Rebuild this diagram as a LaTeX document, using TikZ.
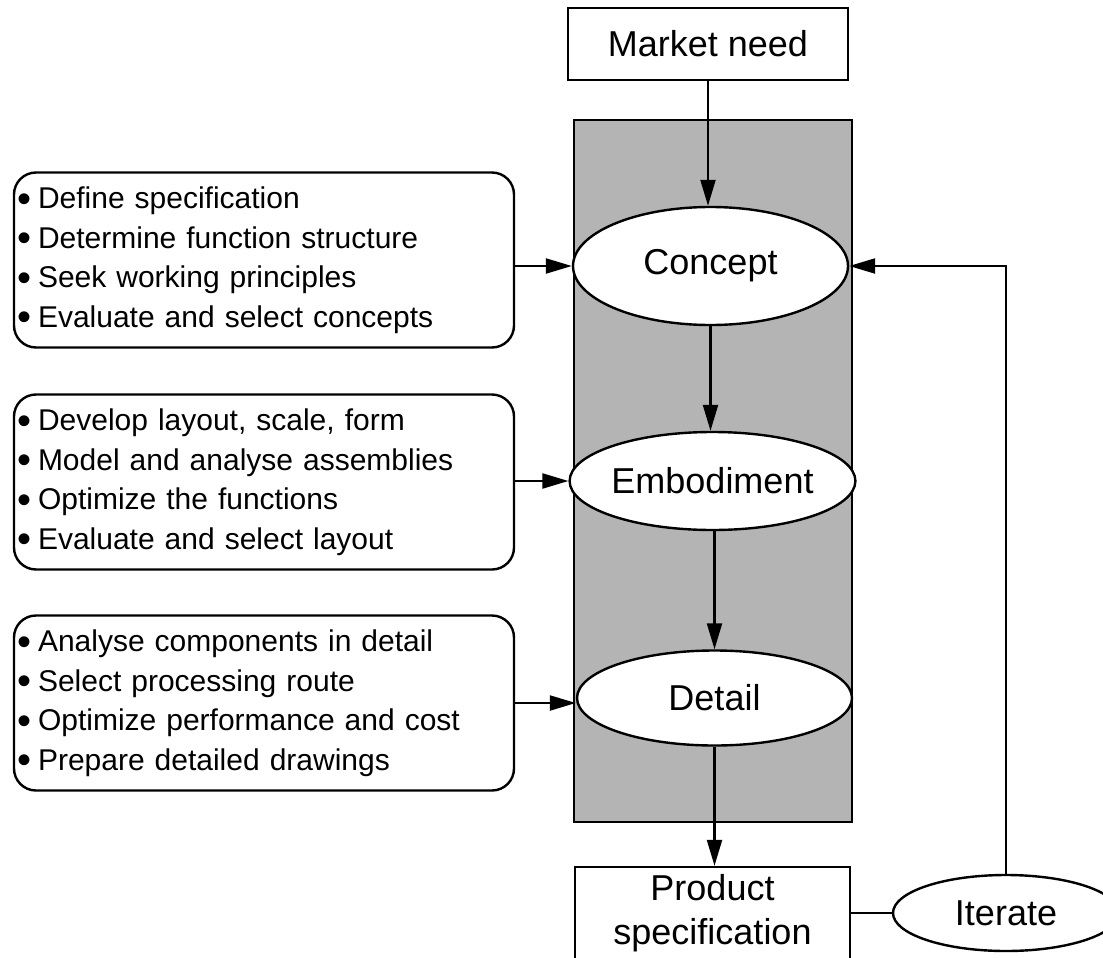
\documentclass[tikz,border=0pt]{standalone}
\usepackage{fontspec}
\setmainfont{Liberation Sans}
\usetikzlibrary{shapes.geometric,arrows.meta}
\definecolor{panelgray}{HTML}{B4B4B4}
% heavier list bullet, kept on the middle of the lower-case letters
\newcommand{\taskdot}{\raisebox{-3.5pt}{\fontsize{40}{39.5}\selectfont\textbullet}\hspace{7pt}}
\begin{document}
\begin{tikzpicture}[x=1pt,y=-1pt,
  every node/.style={inner sep=0pt},
  plainbox/.style={draw, line width=2.4pt, fill=white,
    font=\fontsize{36}{44}\selectfont, align=center},
  phase/.style={draw, ellipse, line width=2.4pt, fill=white,
    font=\fontsize{36}{44}\selectfont},
  listbox/.style={draw, rounded corners=22pt, line width=2.4pt, fill=white,
    minimum width=500pt, minimum height=175pt, text width=494pt,
    inner xsep=3pt, align=left, font=\fontsize{30}{39.5}\selectfont},
  link/.style={line width=2.2pt},
  arr/.style={link, -{Triangle[length=26pt,width=15pt]}}
]
\useasboundingbox (0,0) rectangle (1103,958);
\fill[white] (0,0) rectangle (1103,958);

% shaded panel holding the three design phases
\draw[line width=2.2pt, fill=panelgray] (574,120) rectangle (852,822);

% main flow
\node[plainbox, minimum width=280pt, minimum height=72pt] (need) at (708,44) {Market need};
\node[phase, minimum width=275pt, minimum height=118pt] (concept) at (710.5,266) {Concept};
\node[phase, minimum width=275pt, minimum height=98pt] (embod) at (712.5,481) {Embodiment};
\node[phase, minimum width=275pt, minimum height=95pt] (detail) at (714.5,698) {Detail};
\node[plainbox, minimum width=275pt, minimum height=92pt] (prod) at (712.5,913) {Product\\specification};
\node[phase, minimum width=226pt, minimum height=76pt] (iter) at (1006,913) {Iterate};

% task lists feeding each phase
\node[listbox] (tasks1) at (264,260) {%
  \taskdot Define specification\\
  \taskdot Determine function structure\\
  \taskdot Seek working principles\\
  \taskdot Evaluate and select concepts};
\node[listbox] (tasks2) at (264,482) {%
  \taskdot Develop layout, scale, form\\
  \taskdot Model and analyse assemblies\\
  \taskdot Optimize the functions\\
  \taskdot Evaluate and select layout};
\node[listbox] (tasks3) at (264,703) {%
  \taskdot Analyse components in detail\\
  \taskdot Select processing route\\
  \taskdot Optimize performance and cost\\
  \taskdot Prepare detailed drawings};

% connectors
\draw[arr] (need.south) -- (need.south |- concept.north);
\draw[arr] (concept.south) -- (concept.south |- embod.north);
\draw[arr] (detail.north |- embod.south) -- (detail.north);
\draw[arr] (detail.south) -- (detail.south |- prod.north);

\draw[arr] (concept.west -| tasks1.east) -- (concept.west);
\draw[arr] (embod.west -| tasks2.east) -- (embod.west);
\draw[arr] (tasks3.east) -- (tasks3.east -| detail.west);

\draw[link] (prod.east) -- (iter.west);
\draw[arr] (iter.north) |- (concept.east);
\end{tikzpicture}
\end{document}
